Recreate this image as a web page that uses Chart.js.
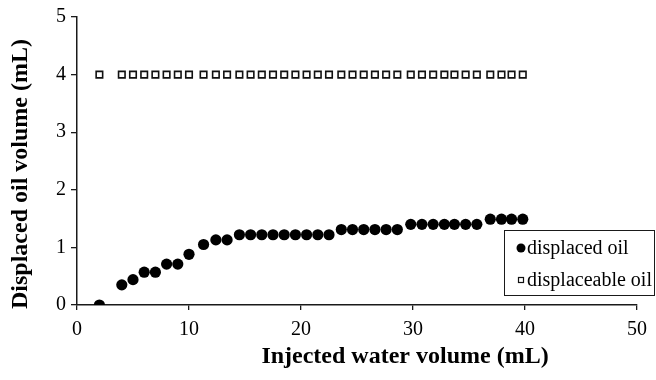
<!DOCTYPE html>
<html><head><meta charset="utf-8">
<script src="https://cdn.jsdelivr.net/npm/chart.js@4"></script>
<style>html,body{margin:0;padding:0;background:#fff}#wrap{width:656px;height:380px}</style>
</head><body><div id="wrap"><canvas id="c" width="656" height="380"></canvas></div>
<script>
const injectedWater = [2,4,5,6,7,8,9,10,11.3,12.4,13.4,14.5,15.5,16.5,17.5,18.5,19.5,20.5,21.5,22.5,23.6,24.6,25.6,26.6,27.6,28.6,29.8,30.8,31.8,32.8,33.7,34.7,35.7,36.9,37.9,38.8,39.8];
const displacedOil = [0,0.35,0.44,0.57,0.57,0.71,0.71,0.88,1.05,1.13,1.13,1.22,1.22,1.22,1.22,1.22,1.22,1.22,1.22,1.22,1.31,1.31,1.31,1.31,1.31,1.31,1.40,1.40,1.40,1.40,1.40,1.40,1.40,1.49,1.49,1.49,1.49];
const displaceableOil = [4,4,4,4,4,4,4,4,4,4,4,4,4,4,4,4,4,4,4,4,4,4,4,4,4,4,4,4,4,4,4,4,4,4,4,4,4];
const xTicks = [0,10,20,30,40,50];
const yTicks = [0,1,2,3,4,5];
const seriesLabels = ['displaced oil','displaceable oil'];
const xTitle = 'Injected water volume (mL)';
const yTitle = 'Displaced oil volume (mL)';

const AX = '#1a1a1a';
const SERIF = "'Liberation Serif','Times New Roman',serif";

// legend box + axis titles placed like the original (titles offset from the plot centre)
const decorPlugin = {
  id: 'decor',
  afterDatasetsDraw(chart) {
    const ctx = chart.ctx;
    ctx.save();
    const bx = 504.5, by = 230.5, bw = 150, bh = 65;
    ctx.fillStyle = '#fff';
    ctx.fillRect(bx, by, bw, bh);
    ctx.strokeStyle = AX; ctx.lineWidth = 1;
    ctx.strokeRect(bx, by, bw, bh);
    const rows = [248, 280];
    chart.data.datasets.forEach((ds, i) => {
      const cy = rows[i];
      if (ds.pointStyle === 'rect') {
        ctx.fillStyle = '#fff'; ctx.strokeStyle = ds.borderColor; ctx.lineWidth = 1.2;
        ctx.fillRect(518.5, cy - 2.5, 5, 5); ctx.strokeRect(518.5, cy - 2.5, 5, 5);
      } else {
        ctx.fillStyle = ds.backgroundColor;
        ctx.beginPath(); ctx.arc(521, cy, 4.5, 0, Math.PI * 2); ctx.fill();
      }
      ctx.fillStyle = '#000';
      ctx.font = "20px " + SERIF;
      ctx.textBaseline = 'middle';
      ctx.textAlign = 'left';
      ctx.fillText(ds.label, 527, cy + 1);
    });
    // axis titles
    ctx.fillStyle = '#000';
    ctx.font = "bold 24px " + SERIF;
    ctx.textAlign = 'center';
    ctx.textBaseline = 'middle';
    ctx.fillText(xTitle, 405, 357);
    ctx.translate(21, 174);
    ctx.rotate(-Math.PI / 2);
    ctx.fillText(yTitle, 0, 0);
    ctx.restore();
  }
};

new Chart(document.getElementById('c'), {
  type: 'scatter',
  data: {
    datasets: [
      {
        label: seriesLabels[0],
        data: injectedWater.map((x, i) => ({x, y: displacedOil[i]})),
        pointStyle: 'circle', pointRadius: 5.6, backgroundColor: '#000', borderColor: '#000', borderWidth: 0
      },
      {
        label: seriesLabels[1],
        data: injectedWater.map((x, i) => ({x, y: displaceableOil[i]})),
        pointStyle: 'rect', pointRadius: 4.6, backgroundColor: '#fff', borderColor: '#111', borderWidth: 1.6
      }
    ]
  },
  options: {
    responsive: false,
    animation: false,
    devicePixelRatio: 1,
    layout: { padding: { left: 0, right: 19, top: 16, bottom: 0 } },
    plugins: { legend: { display: false }, tooltip: { enabled: false } },
    scales: {
      x: {
        type: 'linear', min: 0, max: 50,
        afterBuildTicks: s => { s.ticks = xTicks.map(v => ({value: v})); },
        afterFit: s => { s.height = 75; },
        grid: { drawOnChartArea: false, drawTicks: true, tickLength: 5, color: AX, lineWidth: 1.3 },
        border: { color: AX, width: 1.5 },
        ticks: { color: '#000', padding: 8, font: { family: SERIF, size: 20 }, maxRotation: 0 }
      },
      y: {
        type: 'linear', min: 0, max: 5,
        afterBuildTicks: s => { s.ticks = yTicks.map(v => ({value: v})); },
        afterFit: s => { s.width = 77; },
        grid: { drawOnChartArea: false, drawTicks: true, tickLength: 6, color: AX, lineWidth: 1.3 },
        border: { color: AX, width: 1.5 },
        ticks: { color: '#000', padding: 5, font: { family: SERIF, size: 20 } }
      }
    }
  },
  plugins: [decorPlugin]
});
</script>
</body></html>
